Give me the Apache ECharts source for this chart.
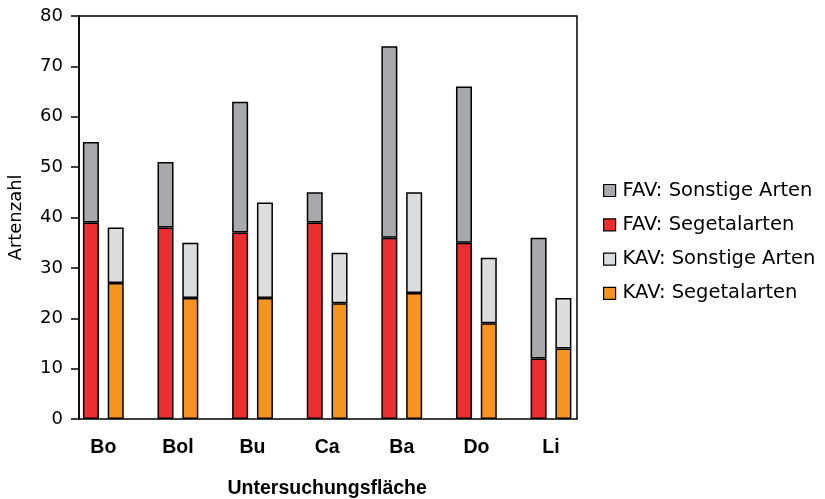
<!DOCTYPE html>
<html>
<head>
<meta charset="utf-8">
<script src="https://cdn.jsdelivr.net/npm/echarts@6/dist/echarts.min.js"></script>
<style>
html,body{margin:0;padding:0;background:#fff;}
#c{width:825px;height:499px;}
</style>
</head>
<body>
<div id="c"></div>
<script>
const categories = ['Bo', 'Bol', 'Bu', 'Ca', 'Ba', 'Do', 'Li'];
const favSegetal = [39, 38, 37, 39, 36, 35, 12];
const favSonstige = [16, 13, 26, 6, 38, 31, 24];
const kavSegetal = [27, 24, 24, 23, 25, 19, 14];
const kavSonstige = [11, 11, 19, 10, 20, 13, 10];
const yTicks = [0, 10, 20, 30, 40, 50, 60, 70, 80];

const REG = '"DejaVu Sans", sans-serif';
const BOLD = '"Liberation Sans", Arial, sans-serif';
const border = { borderColor: '#000', borderWidth: 1.5 };

function bar(name, data, stack, color) {
  return {
    name, type: 'bar', stack, data,
    xAxisIndex: 1, yAxisIndex: 1,
    barWidth: 16, barGap: '55%',
    itemStyle: Object.assign({ color }, border),
    emphasis: { disabled: true }
  };
}

const chart = echarts.init(document.getElementById('c'), null, { renderer: 'canvas' });
chart.setOption({
  animation: false,
  backgroundColor: '#fff',
  textStyle: { fontFamily: REG },
  grid: [
    { left: 79, right: 248, top: 16, bottom: 80, containLabel: false, outerBoundsMode: 'none',
      show: true, borderColor: '#000', borderWidth: 1.5, backgroundColor: 'transparent' },
    { left: 66, right: 236.7, top: 16, bottom: 80, containLabel: false, outerBoundsMode: 'none' }
  ],
  xAxis: [
    { gridIndex: 0, type: 'value', min: 0, max: 1, show: false },
    {
      gridIndex: 1, type: 'category', data: categories,
      axisLine: { show: false }, axisTick: { show: false },
      axisLabel: { color: '#000', fontSize: 19.5, fontWeight: 'bold', fontFamily: BOLD, margin: 19 },
      name: 'Untersuchungsfläche', nameLocation: 'middle', nameGap: 60,
      nameTextStyle: { color: '#000', fontSize: 19.5, fontWeight: 'bold', fontFamily: BOLD }
    }
  ],
  yAxis: [
    {
      gridIndex: 0, type: 'value', min: yTicks[0], max: yTicks[yTicks.length - 1], interval: 10,
      axisLine: { show: true, lineStyle: { color: '#000', width: 1.5 } },
      axisTick: { show: true, inside: false, length: 8, lineStyle: { color: '#000', width: 1.5 } },
      axisLabel: { color: '#000', fontSize: 18, fontFamily: REG, margin: 16 },
      splitLine: { show: false },
      name: 'Artenzahl', nameLocation: 'middle', nameGap: 54, nameRotate: 90,
      nameTextStyle: { color: '#000', fontSize: 18, fontFamily: REG }
    },
    { gridIndex: 1, type: 'value', min: 0, max: 80, interval: 10, show: false }
  ],
  legend: {
    orient: 'vertical', left: 603, top: 180.5, padding: 0,
    icon: 'rect',
    itemWidth: 12, itemHeight: 12, itemGap: 14.3,
    textStyle: { color: '#000', fontSize: 19.5, fontFamily: REG, lineHeight: 20, padding: [0, 0, 0, 2] },
    data: ['FAV: Sonstige Arten', 'FAV: Segetalarten', 'KAV: Sonstige Arten', 'KAV: Segetalarten'],
    itemStyle: { borderColor: '#000', borderWidth: 1.2 }
  },
  series: [
    bar('FAV: Segetalarten', favSegetal, 'fav', '#ee2e2e'),
    bar('FAV: Sonstige Arten', favSonstige, 'fav', '#a7a9ac'),
    bar('KAV: Segetalarten', kavSegetal, 'kav', '#f7941e'),
    bar('KAV: Sonstige Arten', kavSonstige, 'kav', '#dcddde')
  ]
});
</script>
</body>
</html>
